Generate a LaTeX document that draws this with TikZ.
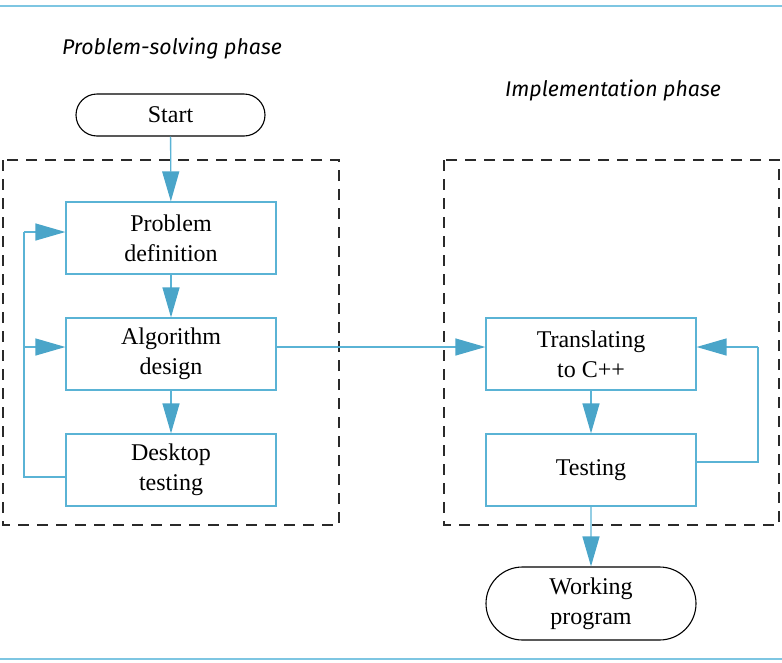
\documentclass[tikz,border=0pt]{standalone}
\usepackage{fontspec}
\setmainfont{Liberation Serif}
\newfontfamily\phasefont{Fira Sans}
\usetikzlibrary{arrows.meta,shapes.misc,calc}
\definecolor{lineblue}{HTML}{5AB3D5}
\definecolor{tipblue}{HTML}{4AA5C9}
\definecolor{rule}{HTML}{7EC6E2}
\definecolor{dashgray}{HTML}{2A2A2A}
\begin{document}
\begin{tikzpicture}[x=1pt,y=-1pt,
  procbox/.style={draw=lineblue,line width=1.2pt,minimum width=210pt,minimum height=72pt,
    align=center,font=\fontsize{24}{30}\selectfont,inner sep=0pt},
  pill/.style={draw=black,line width=1.1pt,rounded rectangle,rounded rectangle arc length=180,
    align=center,font=\fontsize{24}{30}\selectfont,inner sep=0pt},
  arr/.style={draw=lineblue,line width=1.3pt,-{Triangle[length=30pt,width=17pt,fill=tipblue,color=tipblue]}},
  conn/.style={draw=lineblue,line width=1.3pt},
  phasebox/.style={draw=dashgray,line width=1.3pt,dash pattern=on 11pt off 8pt},
  phaselabel/.style={font=\phasefont\itshape\fontsize{21.3}{24}\selectfont,inner sep=0pt}]
\useasboundingbox (0,0) rectangle (782,662);
% rules
\draw[rule,line width=2.2pt] (0,6) -- (782,6);
\draw[rule,line width=2.2pt] (0,659) -- (782,659);
% phase boxes
\draw[phasebox] (3,160) rectangle (339,525);
\draw[phasebox] (444,160) rectangle (779,525);
% labels
\node[phaselabel] (lps) at (172,48) {Problem-solving phase};
\node[phaselabel] (lip) at (613,90) {Implementation phase};
% nodes
\node[pill,minimum width=189pt,minimum height=42pt] (start) at (170.5,115) {Start};
\node[procbox] (pd) at (171,238) {Problem\\definition};
\node[procbox] (ad) at (171,354) {Algorithm\\design};
\node[procbox] (dt) at (171,470) {Desktop\\testing};
\node[procbox] (tc) at (591,354) {Translating\\to C++};
\node[procbox] (te) at (591,470) {Testing};
\node[pill,minimum width=210pt,minimum height=73pt] (wp) at (591,603.5) {Working\\program};
% coordinates
\coordinate (pdin) at ($(pd.west)+(0,-6)$);
\coordinate (adin) at ($(ad.west)+(0,-7)$);
\coordinate (adout) at ($(ad.east)+(0,-7)$);
\coordinate (tcin) at ($(tc.west)+(0,-7)$);
\coordinate (tcfb) at ($(tc.east)+(0,-7)$);
\coordinate (dtout) at ($(dt.west)+(0,7)$);
\coordinate (teout) at ($(te.east)+(0,-8)$);
\coordinate (lx) at (24,0);
\coordinate (rx) at (758,0);
% connectors
\draw[arr] (start) -- (pd);
\draw[arr] (pd) -- (ad);
\draw[arr] (ad) -- (dt);
\draw[conn] (dtout) -- (lx |- dtout) -- (lx |- pdin);
\draw[arr] (lx |- pdin) -- (pdin);
\draw[arr] (lx |- adin) -- (adin);
\draw[arr] (adout) -- (tcin);
\draw[arr] (tc) -- (te);
\draw[conn] (teout) -- (rx |- teout) -- (rx |- tcfb);
\draw[arr] (rx |- tcfb) -- (tcfb);
\draw[arr] (te) -- (wp);
\end{tikzpicture}
\end{document}
